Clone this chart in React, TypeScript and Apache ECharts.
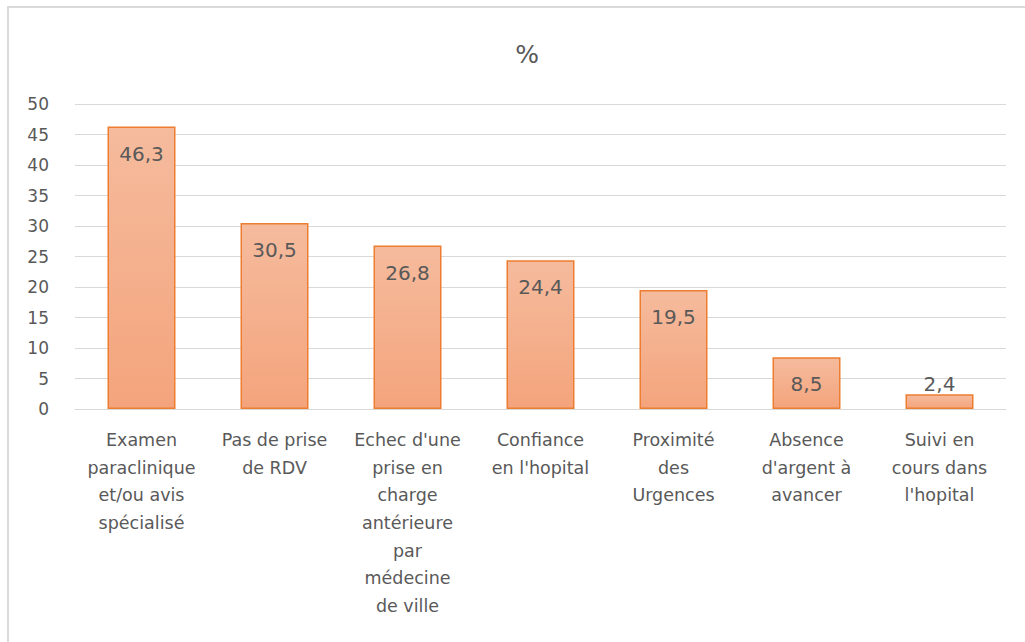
import React, { useEffect, useRef } from "react";
import * as echarts from "echarts";

const categories = [
  "Examen\nparaclinique\net/ou avis\nspécialisé",
  "Pas de prise\nde RDV",
  "Echec d'une\nprise en\ncharge\nantérieure\npar\nmédecine\nde ville",
  "Confiance\nen l'hopital",
  "Proximité\ndes\nUrgences",
  "Absence\nd'argent à\navancer",
  "Suivi en\ncours dans\nl'hopital",
];
const values = [46.3, 30.5, 26.8, 24.4, 19.5, 8.5, 2.4];
const yTicks = { min: 0, max: 50, interval: 5 };
const title = "%";

const FONT = "'DejaVu Sans', 'Noto Sans', sans-serif";
const GRAY = "#595959";

export default function App() {
  const ref = useRef<HTMLDivElement>(null);
  useEffect(() => {
    if (!ref.current) return;
    const chart = echarts.init(ref.current, null, { renderer: "svg" });
    chart.setOption({
      animation: false,
      backgroundColor: "#ffffff",
      title: {
        text: title,
        left: 522,
        top: 37,
        textAlign: "center",
        textStyle: { fontFamily: FONT, fontSize: 25, fontWeight: "normal", color: GRAY },
      },
      graphic: [
        {
          type: "rect",
          shape: { x: 8, y: 7, width: 1200, height: 800 },
          style: { fill: "none", stroke: "#d9d9d9", lineWidth: 2 },
          silent: true,
        },
      ],
      grid: { left: 75, right: 19, top: 104, bottom: 233 },
      xAxis: {
        type: "category",
        data: categories,
        axisLine: { show: true, lineStyle: { color: "#d9d9d9", width: 1 } },
        axisTick: { show: false },
        axisLabel: {
          interval: 0,
          margin: 17,
          fontFamily: FONT,
          fontSize: 17.5,
          lineHeight: 27.7,
          color: GRAY,
          align: "center",
        },
      },
      yAxis: {
        type: "value",
        min: yTicks.min,
        max: yTicks.max,
        interval: yTicks.interval,
        axisLine: { show: false },
        axisTick: { show: false },
        splitLine: { lineStyle: { color: "#d9d9d9", width: 1 } },
        axisLabel: { fontFamily: FONT, fontSize: 17, color: GRAY, margin: 26 },
      },
      series: [
        {
          type: "bar",
          barWidth: 68,
          data: values.map((v) => ({
            value: v,
            label: v < 5 ? { position: "top", distance: 0 } : undefined,
          })),
          itemStyle: {
            color: new echarts.graphic.LinearGradient(0, 0, 0, 1, [
              { offset: 0, color: "#f5bb9d" },
              { offset: 1, color: "#f4a47c" },
            ]),
            borderColor: "#ed7d31",
            borderWidth: 1.5,
          },
          label: {
            show: true,
            position: "insideTop",
            distance: 17,
            fontFamily: FONT,
            fontSize: 20,
            color: GRAY,
            formatter: (p: any) => String(p.value).replace(".", ","),
          },
        },
      ],
    });
    return () => chart.dispose();
  }, []);
  return (
    <div
      ref={ref}
      style={{ position: "fixed", left: 0, top: 0, width: 1025, height: 642 }}
    />
  );
}
